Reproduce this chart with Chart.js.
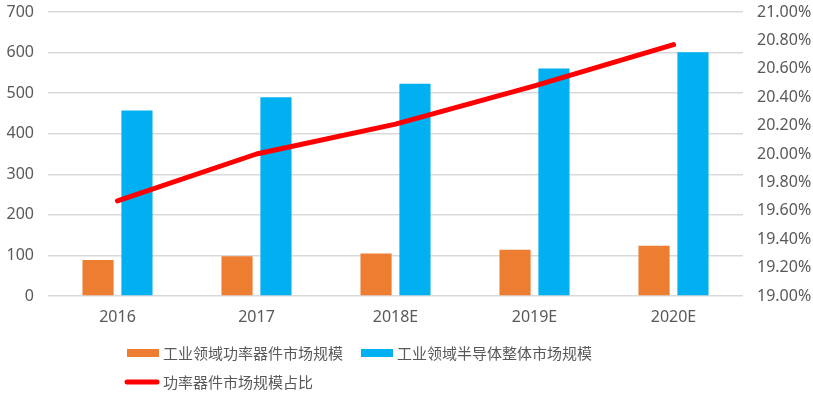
<!DOCTYPE html>
<html>
<head>
<meta charset="utf-8">
<script src="https://cdn.jsdelivr.net/npm/chart.js@4/dist/chart.umd.min.js"></script>
<style>
html,body{margin:0;padding:0;background:#fff;}
#wrap{width:813px;height:396px;position:relative;}
</style>
</head>
<body>
<div id="wrap"><canvas id="c" width="813" height="396"></canvas></div>
<script>
const categories = ["2016", "2017", "2018E", "2019E", "2020E"];
const powerDeviceMarket = [89, 98, 105, 114, 124];
const semiconductorMarket = [457, 490, 523, 561, 601];
const powerShare = [19.67, 20.00, 20.21, 20.48, 20.77];
const seriesNames = ["工业领域功率器件市场规模", "工业领域半导体整体市场规模", "功率器件市场规模占比"];

const tickColor = "#595959";
const gridColor = "#d9d9d9";
const numFont = {family: "'Noto Sans', 'DejaVu Sans', sans-serif", size: 16};
const cjkFont = "15px 'Noto Sans CJK SC', sans-serif";

const legendPlugin = {
  id: "customLegend",
  afterDraw(chart) {
    const ctx = chart.ctx;
    const ds = chart.data.datasets;
    ctx.save();
    ctx.font = cjkFont;
    ctx.fillStyle = tickColor;
    ctx.textBaseline = "middle";
    let x = 127, y = 353;
    ctx.fillStyle = ds[0].backgroundColor;
    ctx.fillRect(x, y - 4, 32, 8);
    ctx.fillStyle = tickColor;
    ctx.fillText(ds[0].label, x + 36, y);
    x = x + 36 + ctx.measureText(ds[0].label).width + 18;
    ctx.fillStyle = ds[1].backgroundColor;
    ctx.fillRect(x, y - 4, 32, 8);
    ctx.fillStyle = tickColor;
    ctx.fillText(ds[1].label, x + 36, y);
    x = 127; y = 382;
    ctx.strokeStyle = ds[2].borderColor;
    ctx.lineWidth = 5;
    ctx.lineCap = "round";
    ctx.beginPath();
    ctx.moveTo(x, y);
    ctx.lineTo(x + 30, y);
    ctx.stroke();
    ctx.fillStyle = tickColor;
    ctx.fillText(ds[2].label, x + 36, y);
    ctx.restore();
  }
};

function fixVertical(width) {
  return function (s) {
    s.width = width;
    s.paddingTop = 0;
    s.paddingBottom = 0;
  };
}

new Chart(document.getElementById("c"), {
  data: {
    labels: categories,
    datasets: [
      {
        type: "bar",
        label: seriesNames[0],
        data: powerDeviceMarket,
        backgroundColor: "#ED7D31",
        yAxisID: "y",
        order: 1,
        categoryPercentage: 0.56,
        barPercentage: 0.8
      },
      {
        type: "bar",
        label: seriesNames[1],
        data: semiconductorMarket,
        backgroundColor: "#00B0F0",
        yAxisID: "y",
        order: 1,
        categoryPercentage: 0.56,
        barPercentage: 0.8
      },
      {
        type: "line",
        label: seriesNames[2],
        data: powerShare,
        borderColor: "#FF0000",
        backgroundColor: "#FF0000",
        borderWidth: 5,
        borderCapStyle: "round",
        borderJoinStyle: "round",
        pointRadius: 0,
        tension: 0,
        yAxisID: "y1",
        order: 0
      }
    ]
  },
  options: {
    responsive: false,
    animation: false,
    devicePixelRatio: 1,
    layout: {padding: {top: 12, left: 0, right: 0, bottom: 0}},
    plugins: {legend: {display: false}, tooltip: {enabled: false}},
    scales: {
      x: {
        grid: {display: false, drawTicks: false},
        border: {display: false},
        ticks: {color: tickColor, font: numFont, padding: 12, maxRotation: 0},
        afterFit(s) { s.height = 100; s.paddingLeft = 0; s.paddingRight = 0; }
      },
      y: {
        position: "left",
        min: 0, max: 700,
        ticks: {stepSize: 100, color: tickColor, font: numFont, padding: 14},
        grid: {color: gridColor, lineWidth: 1.5, drawTicks: false},
        border: {display: false},
        afterFit: fixVertical(48)
      },
      y1: {
        position: "right",
        min: 19, max: 21,
        ticks: {
          stepSize: 0.2, color: tickColor, font: numFont, padding: 14,
          callback: v => v.toFixed(2) + "%"
        },
        grid: {display: false, drawTicks: false},
        border: {display: false},
        afterFit: fixVertical(70)
      }
    }
  },
  plugins: [legendPlugin]
});
</script>
</body>
</html>
